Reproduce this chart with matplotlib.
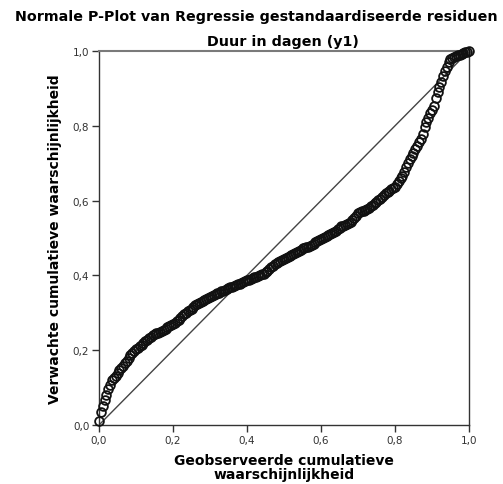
import matplotlib
matplotlib.use("Agg")
import matplotlib.pyplot as plt
from matplotlib.ticker import FuncFormatter

# Observed cumulative probability (x) and expected cumulative probability (y)
observed = [
    0.000, 0.005, 0.010, 0.015, 0.020, 0.025, 0.030, 0.035, 0.040, 0.045,
    0.050, 0.055, 0.060, 0.065, 0.070, 0.075, 0.080, 0.085, 0.090, 0.095,
    0.100, 0.105, 0.110, 0.115, 0.120, 0.125, 0.130, 0.135, 0.140, 0.145,
    0.150, 0.155, 0.160, 0.165, 0.170, 0.175, 0.180, 0.185, 0.190, 0.195,
    0.200, 0.205, 0.210, 0.215, 0.220, 0.225, 0.230, 0.235, 0.240, 0.245,
    0.250, 0.255, 0.260, 0.265, 0.270, 0.275, 0.280, 0.285, 0.290, 0.295,
    0.300, 0.305, 0.310, 0.315, 0.320, 0.325, 0.330, 0.335, 0.340, 0.345,
    0.350, 0.355, 0.360, 0.365, 0.370, 0.375, 0.380, 0.385, 0.390, 0.395,
    0.400, 0.405, 0.410, 0.415, 0.420, 0.425, 0.430, 0.435, 0.440, 0.445,
    0.450, 0.455, 0.460, 0.465, 0.470, 0.475, 0.480, 0.485, 0.490, 0.495,
    0.500, 0.505, 0.510, 0.515, 0.520, 0.525, 0.530, 0.535, 0.540, 0.545,
    0.550, 0.555, 0.560, 0.565, 0.570, 0.575, 0.580, 0.585, 0.590, 0.595,
    0.600, 0.605, 0.610, 0.615, 0.620, 0.625, 0.630, 0.635, 0.640, 0.645,
    0.650, 0.655, 0.660, 0.665, 0.670, 0.675, 0.680, 0.685, 0.690, 0.695,
    0.700, 0.705, 0.710, 0.715, 0.720, 0.725, 0.730, 0.735, 0.740, 0.745,
    0.750, 0.755, 0.760, 0.765, 0.770, 0.775, 0.780, 0.785, 0.790, 0.795,
    0.800, 0.805, 0.810, 0.815, 0.820, 0.825, 0.830, 0.835, 0.840, 0.845,
    0.850, 0.855, 0.860, 0.865, 0.870, 0.875, 0.880, 0.885, 0.890, 0.895,
    0.900, 0.905, 0.910, 0.915, 0.920, 0.925, 0.930, 0.935, 0.940, 0.945,
    0.950, 0.955, 0.960, 0.965, 0.970, 0.975, 0.980, 0.985, 0.990, 0.995,
    1.000,
]
expected = [
    0.010, 0.034, 0.052, 0.068, 0.080, 0.095, 0.108, 0.119, 0.125, 0.132,
    0.139, 0.146, 0.153, 0.159, 0.165, 0.172, 0.179, 0.186, 0.192, 0.197,
    0.202, 0.207, 0.211, 0.215, 0.220, 0.224, 0.228, 0.232, 0.236, 0.240,
    0.242, 0.245, 0.247, 0.250, 0.252, 0.255, 0.258, 0.261, 0.264, 0.267,
    0.270, 0.274, 0.278, 0.282, 0.287, 0.292, 0.296, 0.300, 0.304, 0.308,
    0.311, 0.316, 0.321, 0.324, 0.327, 0.330, 0.332, 0.335, 0.337, 0.339,
    0.342, 0.344, 0.347, 0.349, 0.352, 0.354, 0.357, 0.359, 0.361, 0.363,
    0.366, 0.368, 0.370, 0.372, 0.374, 0.376, 0.378, 0.381, 0.383, 0.385,
    0.387, 0.389, 0.391, 0.393, 0.395, 0.397, 0.399, 0.401, 0.403, 0.405,
    0.409, 0.413, 0.418, 0.422, 0.426, 0.430, 0.434, 0.436, 0.439, 0.442,
    0.445, 0.447, 0.450, 0.452, 0.455, 0.457, 0.460, 0.463, 0.465, 0.468,
    0.472, 0.474, 0.475, 0.476, 0.479, 0.482, 0.485, 0.488, 0.491, 0.494,
    0.497, 0.500, 0.503, 0.505, 0.508, 0.510, 0.513, 0.516, 0.520, 0.524,
    0.528, 0.531, 0.533, 0.535, 0.537, 0.540, 0.544, 0.548, 0.554, 0.560,
    0.566, 0.569, 0.571, 0.573, 0.575, 0.578, 0.581, 0.585, 0.589, 0.593,
    0.597, 0.601, 0.605, 0.610, 0.615, 0.619, 0.623, 0.627, 0.630, 0.633,
    0.637, 0.645, 0.653, 0.660, 0.667, 0.677, 0.689, 0.700, 0.711, 0.719,
    0.728, 0.737, 0.746, 0.756, 0.765, 0.779, 0.796, 0.810, 0.822, 0.834,
    0.843, 0.854, 0.874, 0.891, 0.905, 0.918, 0.933, 0.947, 0.958, 0.970,
    0.979, 0.982, 0.985, 0.987, 0.989, 0.990, 0.992, 0.994, 0.996, 0.998,
    0.999,
]
ref_line = [0.0, 1.0]
ticks = [0.0, 0.2, 0.4, 0.6, 0.8, 1.0]

title_line1 = "Normale P-Plot van Regressie gestandaardiseerde residuen"
title_line2 = "Duur in dagen (y1)"
xlabel_text = "Geobserveerde cumulatieve\nwaarschijnlijkheid"
ylabel_text = "Verwachte cumulatieve waarschijnlijkheid"

plt.rcParams['font.family'] = ['DejaVu Sans']

fig = plt.figure(figsize=(5.03, 4.85), dpi=100)
ax = fig.add_axes([99/503, 1 - 426/485, 370/503, 374/485])

ax.plot(ref_line, ref_line, color='#444444', linewidth=1.0, zorder=2)
ax.plot(observed, expected, linestyle='none', marker='o', markersize=6.3,
        markerfacecolor='none', markeredgecolor='#111111', markeredgewidth=1.3,
        zorder=3, clip_on=False)

ax.set_xlim(0, 1)
ax.set_ylim(0, 1)
ax.set_xticks(ticks)
ax.set_yticks(ticks)
fmt = FuncFormatter(lambda v, p: f"{v:.1f}".replace('.', ','))
ax.xaxis.set_major_formatter(fmt)
ax.yaxis.set_major_formatter(fmt)
ax.tick_params(direction='out', length=5, width=1, color='#333333',
               labelsize=7.5, labelcolor='#333333', pad=2)

for side in ['left', 'bottom', 'right']:
    ax.spines[side].set_color('#333333')
    ax.spines[side].set_linewidth(1.0)
ax.spines['top'].set_color('#7a7a7a')
ax.spines['top'].set_linewidth(1.5)

fig.text(256/503, 1 - 17/485, title_line1,
         ha='center', va='center', fontsize=10.3, fontweight='bold')
fig.text(283/503, 1 - 42/485, title_line2,
         ha='center', va='center', fontsize=10.3, fontweight='bold')

ax.set_xlabel(xlabel_text, fontsize=10, fontweight='bold', linespacing=0.95, labelpad=6)
ax.set_ylabel(ylabel_text, fontsize=10, fontweight='bold', labelpad=8)

fig.savefig("out.png", dpi=100)
